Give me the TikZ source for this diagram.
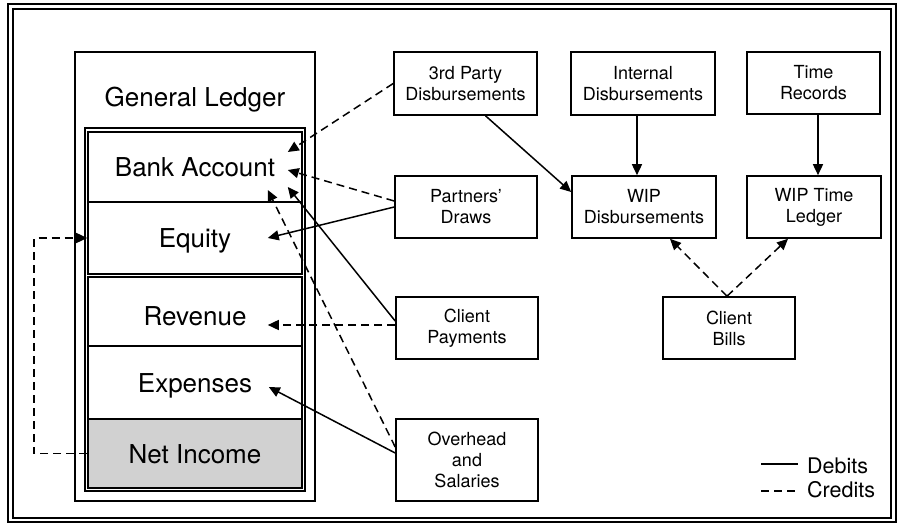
\documentclass[tikz,border=0pt]{standalone}
\usepackage{fontspec}
\setmainfont{TeX Gyre Heros}
\usetikzlibrary{arrows.meta}
\begin{document}
\begin{tikzpicture}[x=1pt,y=-1pt,
  srcbox/.style={draw, line width=1.6pt, inner sep=0pt, align=center,
    font=\fontsize{18}{21}\selectfont},
  acct/.style={draw, line width=1.6pt, minimum width=214pt, inner sep=0pt,
    font=\fontsize{26}{30}\selectfont, text height=19pt, text depth=0pt},
  debit/.style={line width=1.5pt, -{Triangle[length=11pt,width=10pt]}},
  credit/.style={debit, dash pattern=on 8pt off 5pt},
  legend/.style={anchor=west, font=\fontsize{21.5}{26}\selectfont,
    text height=15.5pt, text depth=0pt, inner sep=0pt}]
\useasboundingbox (0,0) rectangle (898,525);

% double outer frame
\draw[line width=1.4pt] (8,4) rectangle (896,522);
\draw[line width=1.4pt] (13,9) rectangle (891,518);

% general ledger
\draw[line width=1.6pt] (75,52) rectangle (315,501);
\node[font=\fontsize{26}{30}\selectfont, text height=19pt, text depth=0pt]
  (title) at (195,97) {General Ledger};
\draw[line width=1.6pt] (85,128) rectangle (305,491);
\node[acct, minimum height=70pt] (bank) at (195,167) {Bank Account};
\node[acct, minimum height=72pt] (equity) at (195,238) {Equity};
\node[acct, minimum height=69pt, text height=27pt] (revenue) at (195,311.5) {Revenue};
\node[acct, minimum height=73pt] (expenses) at (195,382.5) {Expenses};
\node[acct, minimum height=69pt, fill=black!18] (net) at (195,453.5) {Net Income};

% source documents and sub-ledgers
\node[srcbox, minimum width=143pt, minimum height=63pt] (third) at (465.5,83.5) {3rd Party\\Disbursements};
\node[srcbox, minimum width=144pt, minimum height=63pt] (internal) at (643,83.5) {Internal\\Disbursements};
\node[srcbox, minimum width=133pt, minimum height=62pt] (timerec) at (813.5,83) {Time\\Records};
\node[srcbox, minimum width=142pt, minimum height=62pt] (draws) at (466,207) {Partners'\\Draws};
\node[srcbox, minimum width=144pt, minimum height=62pt] (wipd) at (644,207) {WIP\\Disbursements};
\node[srcbox, minimum width=134pt, minimum height=62pt] (wipt) at (814,207) {WIP Time\\Ledger};
\node[srcbox, minimum width=142pt, minimum height=62pt] (payments) at (467,328) {Client\\Payments};
\node[srcbox, minimum width=132pt, minimum height=62pt] (bills) at (729,328) {Client\\Bills};
\node[srcbox, minimum width=142pt, minimum height=82pt] (overhead) at (467,460) {Overhead\\and\\Salaries};

% postings to the general ledger
\draw[credit] (third.west) -- ([shift={(-15,-15)}]bank.east);
\draw[credit] ([shift={(0,-6)}]draws.west) -- ([shift={(-15,3)}]bank.east);
\draw[debit] (draws.west) -- ([shift={(-35,0)}]equity.east);
\draw[debit] ([shift={(0,-7)}]payments.west) -- ([shift={(-15,20)}]bank.east);
\draw[credit] ([shift={(0,-3)}]payments.west) -- ([shift={(-35,13.5)}]revenue.east);
\draw[credit] ([shift={(0,-13)}]overhead.west) -- ([shift={(-35,23)}]bank.east);
\draw[debit] ([shift={(0,-7)}]overhead.west) -- ([shift={(-34,4.5)}]expenses.east);
\draw[credit] (net.west) -- ([shift={(-53,0)}]net.west) |- (equity.west);

% work in progress
\draw[debit] ([shift={(20,0)}]third.south) -- ([shift={(0,-15)}]wipd.west);
\draw[debit] ([shift={(-6,0)}]internal.south) -- ([shift={(-7,0)}]wipd.north);
\draw[debit] ([shift={(4.5,0)}]timerec.south) -- ([shift={(4,0)}]wipt.north);
\draw[credit] ([shift={(-2,0)}]bills.north) -- ([shift={(26,0)}]wipd.south);
\draw[credit] ([shift={(-2,0)}]bills.north) -- ([shift={(-26,0)}]wipt.south);

% legend
\node[legend] (debits) at (807,466) {Debits};
\node[legend] (credits) at (807,490) {Credits};
\draw[line width=1.5pt] ([shift={(-46,-2)}]debits.west) -- ([shift={(-9,-2)}]debits.west);
\draw[line width=1.5pt, dash pattern=on 8pt off 5pt] ([shift={(-46,1)}]credits.west) -- ([shift={(-9,1)}]credits.west);
\end{tikzpicture}
\end{document}
